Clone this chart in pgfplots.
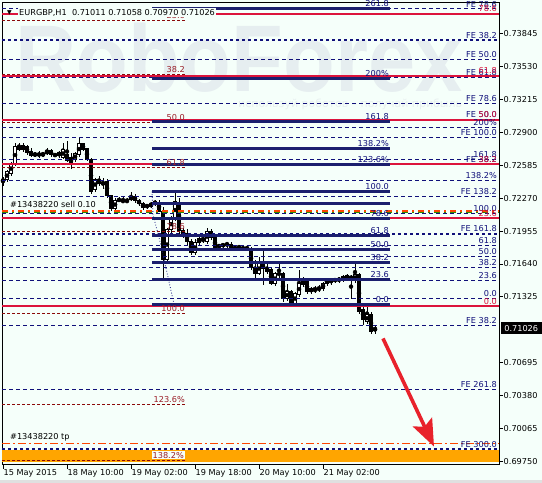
\documentclass[border=0pt]{standalone}
\usepackage{fontspec}
\setmainfont{DejaVu Sans}
\newfontfamily\wmfont{Liberation Sans}
\usepackage{pgfplots}
\usepackage{pgfplotstable}
\pgfplotsset{compat=1.18}
\usetikzlibrary{arrows.meta}

\definecolor{bg}{HTML}{F5FFFA}
\definecolor{wm}{HTML}{E6EEF0}
\definecolor{wmtxt}{HTML}{E8F0F0}
\definecolor{navyd}{HTML}{10107A}
\definecolor{navys}{HTML}{1B1F6E}
\definecolor{crim}{HTML}{DC143C}
\definecolor{maroonl}{HTML}{8B0A0A}
\definecolor{maroont}{HTML}{9A1E28}
\definecolor{band}{HTML}{FFA500}
\definecolor{tpred}{HTML}{FF4500}
\definecolor{ordgreen}{HTML}{2E8B00}
\definecolor{arrowred}{HTML}{E8222B}

% EURGBP H1 candles: index, open, high, low, close
\pgfplotstableread{
i o h l c
0 0.72429 0.72477 0.72391 0.72448
1 0.72448 0.72544 0.72429 0.72525
2 0.72506 0.72620 0.72486 0.72601
3 0.72601 0.72793 0.72582 0.72764
4 0.72764 0.72802 0.72725 0.72735
5 0.72735 0.72793 0.72716 0.72773
6 0.72764 0.72783 0.72687 0.72706
7 0.72716 0.72745 0.72659 0.72678
8 0.72678 0.72716 0.72659 0.72697
9 0.72697 0.72725 0.72649 0.72678
10 0.72678 0.72716 0.72668 0.72697
11 0.72697 0.72745 0.72687 0.72725
12 0.72725 0.72745 0.72668 0.72687
13 0.72687 0.72706 0.72659 0.72678
14 0.72678 0.72725 0.72659 0.72706
15 0.72659 0.72802 0.72649 0.72735
16 0.72687 0.72821 0.72611 0.72630
17 0.72659 0.72706 0.72553 0.72592
18 0.72639 0.72716 0.72620 0.72697
19 0.72687 0.72840 0.72659 0.72793
20 0.72793 0.72802 0.72725 0.72735
21 0.72745 0.72754 0.72630 0.72639
22 0.72639 0.72659 0.72314 0.72333
23 0.72352 0.72467 0.72333 0.72448
24 0.72448 0.72486 0.72391 0.72410
25 0.72419 0.72467 0.72362 0.72400
26 0.72429 0.72458 0.72276 0.72295
27 0.72295 0.72305 0.72151 0.72171
28 0.72171 0.72276 0.72142 0.72247
29 0.72247 0.72276 0.72228 0.72257
30 0.72247 0.72276 0.72228 0.72238
31 0.72238 0.72276 0.72219 0.72247
32 0.72257 0.72324 0.72238 0.72285
33 0.72285 0.72305 0.72228 0.72247
34 0.72247 0.72266 0.72199 0.72219
35 0.72219 0.72238 0.72161 0.72180
36 0.72190 0.72219 0.72171 0.72199
37 0.72190 0.72238 0.72180 0.72219
38 0.72209 0.72257 0.72199 0.72238
39 0.72228 0.72247 0.72132 0.72142
40 0.72142 0.72190 0.71482 0.71683
41 0.71683 0.71989 0.71663 0.71970
42 0.71970 0.72104 0.71941 0.72075
43 0.72075 0.72333 0.72056 0.72238
44 0.72228 0.72276 0.71931 0.71960
45 0.71960 0.71989 0.71893 0.71922
46 0.71931 0.71970 0.71826 0.71855
47 0.71855 0.71884 0.71730 0.71750
48 0.71750 0.71874 0.71730 0.71845
49 0.71845 0.71903 0.71817 0.71884
50 0.71874 0.71912 0.71845 0.71864
51 0.71855 0.71989 0.71836 0.71951
52 0.71951 0.71979 0.71874 0.71893
53 0.71893 0.71903 0.71778 0.71797
54 0.71807 0.71836 0.71788 0.71817
55 0.71817 0.71845 0.71797 0.71826
56 0.71826 0.71855 0.71797 0.71836
57 0.71826 0.71855 0.71769 0.71788
58 0.71788 0.71817 0.71769 0.71797
59 0.71797 0.71826 0.71778 0.71788
60 0.71788 0.71807 0.71769 0.71797
61 0.71797 0.71817 0.71769 0.71778
62 0.71778 0.71807 0.71587 0.71606
63 0.71606 0.71683 0.71510 0.71549
64 0.71549 0.71711 0.71530 0.71644
65 0.71644 0.71788 0.71443 0.71597
66 0.71597 0.71644 0.71549 0.71568
67 0.71587 0.71606 0.71434 0.71453
68 0.71453 0.71568 0.71434 0.71549
69 0.71549 0.71644 0.71510 0.71539
70 0.71549 0.71568 0.71281 0.71310
71 0.71310 0.71453 0.71290 0.71376
72 0.71376 0.71396 0.71243 0.71262
73 0.71262 0.71376 0.71243 0.71357
74 0.71348 0.71587 0.71329 0.71453
75 0.71443 0.71520 0.71424 0.71491
76 0.71472 0.71491 0.71357 0.71376
77 0.71405 0.71424 0.71357 0.71376
78 0.71396 0.71434 0.71367 0.71386
79 0.71405 0.71443 0.71376 0.71396
80 0.71405 0.71472 0.71386 0.71453
81 0.71453 0.71510 0.71434 0.71491
82 0.71482 0.71510 0.71443 0.71472
83 0.71482 0.71510 0.71463 0.71491
84 0.71482 0.71520 0.71463 0.71501
85 0.71491 0.71539 0.71472 0.71520
86 0.71501 0.71549 0.71482 0.71530
87 0.71520 0.71539 0.71310 0.71501
88 0.71482 0.71663 0.71463 0.71539
89 0.71539 0.71558 0.71166 0.71185
90 0.71204 0.71262 0.71061 0.71109
91 0.71089 0.71262 0.71070 0.71156
92 0.71156 0.71176 0.70975 0.70994
93 0.71011 0.71058 0.70970 0.71026
}\candles

\newcommand\fs{\fontsize{8.2}{9.5}\selectfont}
\tikzset{
  lab/.style={anchor=base east, inner sep=0pt, font=\fs, yshift=1.6bp},
  navydash/.style={navyd, line width=0.9bp, dash pattern=on 4bp off 3bp},
  navydot/.style={navyd, line width=2bp, dash pattern=on 3bp off 3bp},
  redline/.style={crim, line width=2bp},
  navysolid/.style={navys, line width=2.3bp},
  drdash/.style={maroonl, line width=1.1bp, dash pattern=on 3bp off 2bp},
}
% full-width horizontal level
\newcommand\hl[2]{\addplot[#1, forget plot] coordinates {(-0.25,#2) (124,#2)};}
% level label, right aligned just above its line
\newcommand\lab[4]{\node[lab, text=#3] at (axis cs:#1,#2) {#4};}

\begin{document}
\begin{tikzpicture}[x=1bp,y=1bp]
\useasboundingbox (0,0) rectangle (542,483);
\fill[bg] (0,0) rectangle (542,483);
\fill[black!12] (0,0) rectangle (542,2.5);
\begin{axis}[
  at={(2bp,18.5bp)}, anchor=south west,
  scale only axis, width=497bp, height=462bp,
  xmin=-0.25, xmax=124, ymin=0.697212, ymax=0.741416,
  clip mode=individual,
  axis line style={black, line width=1bp},
  tick align=outside, major tick length=4bp,
  tick style={black, line width=0.8bp},
  xtick pos=left, ytick pos=right, yticklabel pos=right,
  xtick={0,16,32,48,64,80},
  xticklabels={15 May 2015, 18 May 10:00, 19 May 02:00, 19 May 18:00, 20 May 10:00, 21 May 02:00},
  xticklabel style={anchor=north west, inner sep=0pt, font=\fs, xshift=0.5bp, yshift=-1bp},
  ytick={0.69750,0.70065,0.70380,0.70695,0.71325,0.71640,0.71955,0.72270,0.72585,0.72900,0.73215,0.73530,0.73845},
  yticklabels={0.69750,0.70065,0.70380,0.70695,0.71325,0.71640,0.71955,0.72270,0.72585,0.72900,0.73215,0.73530,0.73845},
  yticklabel style={anchor=west, inner sep=0pt, font=\fs, xshift=0.5bp},
]
% watermark
\node[anchor=base west, inner sep=0pt, text=wm, xscale=0.895,
      font=\wmfont\bfseries\fontsize{95}{95}\selectfont] at (axis cs:3,0.73290) {RoboForex};
\node[anchor=base west, inner sep=0pt, text=wmtxt,
      font=\fontsize{11}{12}\selectfont] at (axis cs:58.75,0.73137) {используй роботов – получай прибыль};

% candles: wicks, bodies, hollow interior of rising candles
\addplot[only marks, mark=none, forget plot,
  error bars/.cd, y dir=both, y explicit, error mark=none,
  error bar style={draw=black, solid, line width=1bp}]
  table[x=i, y expr={(\thisrow{h}+\thisrow{l})/2}, y error expr={(\thisrow{h}-\thisrow{l})/2}] {\candles};
\addplot[only marks, mark=none, forget plot,
  error bars/.cd, y dir=both, y explicit, error mark=none,
  error bar style={draw=black, solid, line width=3.2bp}]
  table[x=i, y expr={(\thisrow{o}+\thisrow{c})/2}, y error expr={abs(\thisrow{o}-\thisrow{c})/2+0.00004}] {\candles};
\addplot[only marks, mark=none, forget plot,
  restrict expr to domain={\thisrow{c}-\thisrow{o}}{0.00015:1},
  error bars/.cd, y dir=both, y explicit, error mark=none,
  error bar style={draw=white, solid, line width=1.3bp}]
  table[x=i, y expr={(\thisrow{o}+\thisrow{c})/2}, y error expr={(\thisrow{c}-\thisrow{o})/2-0.00006}] {\candles};

% take-profit zone and order lines
\addplot[band, line width=12bp, forget plot] coordinates {(-0.25,0.69798) (124,0.69798)};
\hl{tpred, line width=1bp, dash pattern=on 8bp off 3bp on 2bp off 3bp}{0.69922}
\hl{tpred, line width=1.1bp, dash pattern=on 6bp off 4bp on 2bp off 4bp}{0.72147}
\hl{ordgreen, line width=1.1bp, dash pattern=on 6bp off 4bp on 2bp off 4bp}{0.72134}

% retracement (dark red, dashed)
\addplot[drdash, forget plot] coordinates {(-0.25,0.73969) (45.5,0.73969)};
\addplot[drdash, forget plot] coordinates {(-0.25,0.73453) (45.5,0.73453)};
\addplot[drdash, forget plot] coordinates {(-0.25,0.72993) (45.5,0.72993)};
\addplot[drdash, forget plot] coordinates {(-0.25,0.72563) (45.5,0.72563)};
\addplot[drdash, forget plot] coordinates {(-0.25,0.71951) (45.5,0.71951)};
\addplot[drdash, forget plot] coordinates {(-0.25,0.71166) (45.5,0.71166)};
\addplot[drdash, forget plot] coordinates {(-0.25,0.70295) (45.5,0.70295)};
\addplot[drdash, forget plot] coordinates {(-0.25,0.69760) (45.5,0.69760)};

% expansion and retracement levels (navy, dashed)
\hl{navydash}{0.74084}
\hl{navydash}{0.73596}
\hl{navydash}{0.73424}
\hl{navydash}{0.73175}
\hl{navydash}{0.72946}
\hl{navydash}{0.72855}
\hl{navydash}{0.72639}
\hl{navydash}{0.72439}
\hl{navydash}{0.72285}
\hl{navydash}{0.72123}
\hl{navydash}{0.71817}
\hl{navydash}{0.71711}
\hl{navydash}{0.71606}
\hl{navydash}{0.71482}
\hl{navydash}{0.71310}
\hl{navydash}{0.71051}
\hl{navydash}{0.70439}
\hl{navydot}{0.73778}
\hl{navydot}{0.71931}
\hl{navydot}{0.69865}

% retracement (red, solid)
\hl{redline}{0.74036}
\hl{redline}{0.73443}
\hl{redline}{0.73022}
\hl{redline}{0.72592}
\hl{redline}{0.72075}
\hl{redline}{0.71233}

% retracement (navy, solid)
\addplot[navysolid, forget plot] coordinates {(37.25,0.74084) (96.75,0.74084)};
\addplot[navysolid, forget plot] coordinates {(37.25,0.73414) (96.75,0.73414)};
\addplot[navysolid, forget plot] coordinates {(37.25,0.73003) (96.75,0.73003)};
\addplot[navysolid, forget plot] coordinates {(37.25,0.72745) (96.75,0.72745)};
\addplot[navysolid, forget plot] coordinates {(37.25,0.72592) (96.75,0.72592)};
\addplot[navysolid, forget plot] coordinates {(37.25,0.72333) (96.75,0.72333)};
\addplot[navysolid, forget plot] coordinates {(37.25,0.72219) (96.75,0.72219)};
\addplot[navysolid, forget plot] coordinates {(37.25,0.72075) (96.75,0.72075)};
\addplot[navysolid, forget plot] coordinates {(37.25,0.71912) (96.75,0.71912)};
\addplot[navysolid, forget plot] coordinates {(37.25,0.71778) (96.75,0.71778)};
\addplot[navysolid, forget plot] coordinates {(37.25,0.71654) (96.75,0.71654)};
\addplot[navysolid, forget plot] coordinates {(37.25,0.71491) (96.75,0.71491)};
\addplot[navysolid, forget plot] coordinates {(37.25,0.71252) (96.75,0.71252)};
\addplot[navyd, line width=0.8bp, dotted, forget plot]
  coordinates {(37.25,0.72333) (37.5,0.72113) (39.25,0.71855) (43,0.71214)};

% labels, right edge
\lab{123.5}{0.74080}{navyd}{FE 78.6}
\lab{123.5}{0.73778}{navyd}{FE 38.2}
\lab{123.5}{0.73596}{navyd}{FE 50.0}
\lab{123.5}{0.73424}{navyd}{FE 61.8}
\lab{123.5}{0.73175}{navyd}{FE 78.6}
\lab{123.5}{0.73022}{navyd}{FE 50.0}
\lab{123.5}{0.72946}{navyd}{200\%}
\lab{123.5}{0.72855}{navyd}{FE 100.0}
\lab{123.5}{0.72639}{navyd}{161.8}
\lab{123.5}{0.72592}{navyd}{FE 38.2}
\lab{123.5}{0.72439}{navyd}{138.2\%}
\lab{123.5}{0.72285}{navyd}{FE 138.2}
\lab{123.5}{0.72123}{navyd}{100.0}
\lab{123.5}{0.71931}{navyd}{FE 161.8}
\lab{123.5}{0.71817}{navyd}{61.8}
\lab{123.5}{0.71711}{navyd}{50.0}
\lab{123.5}{0.71606}{navyd}{38.2}
\lab{123.5}{0.71482}{navyd}{23.6}
\lab{123.5}{0.71310}{navyd}{0.0}
\lab{123.5}{0.71051}{navyd}{FE 38.2}
\lab{123.5}{0.70439}{navyd}{FE 261.8}
\lab{123.5}{0.69865}{navyd}{FE 300.0}
\lab{123.5}{0.74036}{crim}{78.6}
\lab{123.5}{0.73443}{crim}{61.8}
\lab{123.5}{0.73022}{crim}{50.0}
\lab{123.5}{0.72592}{crim}{38.2}
\lab{123.5}{0.72075}{crim}{23.6}
\lab{123.5}{0.71233}{crim}{0.0}
% labels, navy retracement
\lab{96.5}{0.74084}{navyd}{261.8}
\lab{96.5}{0.73414}{navyd}{200\%}
\lab{96.5}{0.73003}{navyd}{161.8}
\lab{96.5}{0.72745}{navyd}{138.2\%}
\lab{96.5}{0.72592}{navyd}{123.6\%}
\lab{96.5}{0.72333}{navyd}{100.0}
\lab{96.5}{0.72075}{navyd}{78.6}
\lab{96.5}{0.71912}{navyd}{61.8}
\lab{96.5}{0.71778}{navyd}{50.0}
\lab{96.5}{0.71654}{navyd}{38.2}
\lab{96.5}{0.71491}{navyd}{23.6}
\lab{96.5}{0.71252}{navyd}{0.0}
% labels, dark red retracement
\lab{45.5}{0.73969}{maroont}{23.6}
\lab{45.5}{0.73453}{maroont}{38.2}
\lab{45.5}{0.72993}{maroont}{50.0}
\lab{45.5}{0.72563}{maroont}{61.8}
\lab{45.5}{0.71951}{maroont}{78.6}
\lab{45.5}{0.71166}{maroont}{100.0}
\lab{45.5}{0.70295}{maroont}{123.6\%}
\node[lab, text=maroont, fill=bg, inner sep=1bp, yshift=0.6bp] at (axis cs:45.5,0.69760) {138.2\%};

% order labels
\node[anchor=west, inner sep=0pt, font=\fs] at (axis cs:1.75,0.72209) {\#13438220 sell 0.10};
\node[anchor=west, inner sep=0pt, font=\fs] at (axis cs:1.75,0.69980) {\#13438220 tp};

% projected move
\addplot[arrowred, line width=3.6bp, -{Stealth[length=27bp, width=21bp, inset=5bp]}, forget plot]
  coordinates {(95,0.70927) (107.75,0.69893)};

% header and current price
\node[anchor=center, inner sep=0pt, font=\fontsize{6}{6}\selectfont] at (axis cs:1.6,0.74040) {▼};
\node[anchor=west, inner sep=1bp, fill=bg, font=\fs] at (axis cs:3.75,0.74046)
  {EURGBP,H1\ \ 0.71011 0.71058 0.70970 0.71026};
\node[anchor=west, fill=black, text=white, inner sep=0pt, minimum height=12bp,
      minimum width=41bp, font=\fs, xshift=1.5bp] at (axis cs:124,0.71026) {0.71026};
\end{axis}
\end{tikzpicture}
\end{document}
